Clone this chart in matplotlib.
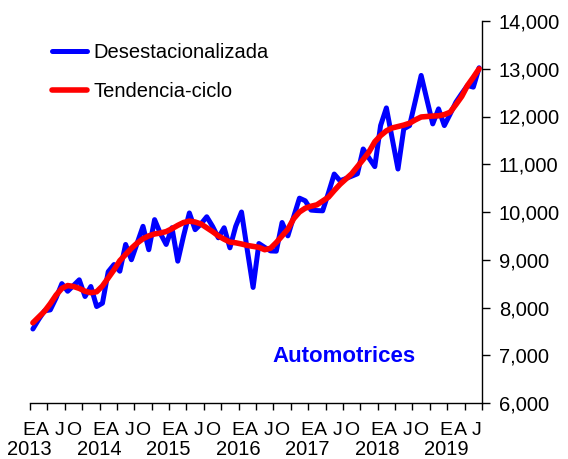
import matplotlib
matplotlib.use("Agg")
import matplotlib.pyplot as plt
from matplotlib.ticker import FuncFormatter, FixedLocator

plt.rcParams['font.family'] = ['Liberation Sans', 'DejaVu Sans']

years = [2013, 2014, 2015, 2016, 2017, 2018, 2019]
month_letters = ["E", "A", "J", "O"]

desestacionalizada = [
    7550, 7750, 7930, 7950, 8200, 8500, 8340, 8460, 8580, 8230, 8440, 8020,
    8090, 8750, 8900, 8760, 9320, 9000, 9350, 9700, 9210, 9840, 9550, 9320,
    9670, 8970, 9500, 9980, 9630, 9750, 9900, 9700, 9460, 9670, 9250, 9700,
    10000, 9200, 8420, 9340, 9260, 9185, 9180, 9780, 9500, 9900, 10290, 10235,
    10040, 10030, 10025, 10400, 10795, 10655, 10700, 10750, 10800, 11320, 11130, 10950,
    11810, 12180, 11540, 10900, 11740, 11810, 12330, 12860, 12350, 11845, 12160, 11810,
    12050, 12300, 12480, 12650, 12615, 13020,
]

tendencia_ciclo = [
    7680, 7800, 7920, 8080, 8260, 8400, 8460, 8440, 8400, 8340, 8310, 8330,
    8450, 8620, 8790, 8980, 9110, 9240, 9350, 9440, 9500, 9540, 9560, 9590,
    9650, 9720, 9780, 9810, 9790, 9750, 9670, 9590, 9500, 9430, 9370, 9355,
    9330, 9300, 9280, 9260, 9210, 9240, 9360, 9500, 9640, 9860, 10000, 10080,
    10120, 10150, 10230, 10310, 10450, 10580, 10690, 10800, 10950, 11100, 11260, 11470,
    11600, 11700, 11760, 11790, 11820, 11860, 11930, 11990, 12000, 12010, 12015, 12040,
    12090, 12250, 12420, 12650, 12820, 13000,
]

n = len(desestacionalizada)
x = list(range(n))
FS = 14.5

fig = plt.figure(figsize=(5.68, 4.59), dpi=100)
ax = fig.add_axes([30 / 568, 1 - 403 / 459, (482 - 30) / 568, (403 - 21) / 459])

ax.plot(x, desestacionalizada, color='#0000FF', lw=3.6, solid_joinstyle='round',
        solid_capstyle='round', label='Desestacionalizada', zorder=2)
ax.plot(x, tendencia_ciclo, color='#FF0000', lw=4.0, solid_joinstyle='round',
        solid_capstyle='round', label='Tendencia-ciclo', zorder=3)

ax.set_xlim(-0.5, n - 0.5)
ax.set_ylim(6000, 14000)

for s in ['top', 'left']:
    ax.spines[s].set_visible(False)
ax.spines['right'].set_linewidth(1.0)
ax.spines['bottom'].set_linewidth(1.0)

ax.yaxis.tick_right()
ax.set_yticks(range(6000, 14001, 1000))
ax.yaxis.set_major_formatter(FuncFormatter(lambda v, p: f"{int(v):,}"))
ax.tick_params(axis='y', direction='out', length=6, width=1, labelsize=FS, pad=6)

ax.xaxis.set_major_locator(FixedLocator([-0.5 + 3 * k for k in range(n // 3 + 1)]))
ax.tick_params(axis='x', direction='out', length=5, width=1, labelbottom=False)

# month letter labels and year labels
letter_offsets = [-0.7, 1.7, 4.6, 7.0]
for yi, yr in enumerate(years):
    base = 12 * yi
    for li, let in enumerate(month_letters):
        if base + 3 * li > n:
            break
        ax.text(base + letter_offsets[li], -0.0838, let, transform=ax.get_xaxis_transform(),
                ha='center', va='baseline', fontsize=14)
    ax.text(base - 0.6, -0.137, str(yr), transform=ax.get_xaxis_transform(),
            ha='center', va='baseline', fontsize=FS)

ax.text((344 - 30) / 452, (403 - 357) / 382, 'Automotrices', transform=ax.transAxes,
        ha='center', va='center', fontsize=16, fontweight='bold', color='#0000FF')

ax.legend(loc='upper left', bbox_to_anchor=(42 / 568, 1 - 33 / 459),
          bbox_transform=fig.transFigure, frameon=False, fontsize=FS,
          handlelength=1.75, handletextpad=0.3, labelspacing=1.0, borderpad=0)

fig.savefig('out.png', dpi=100)
